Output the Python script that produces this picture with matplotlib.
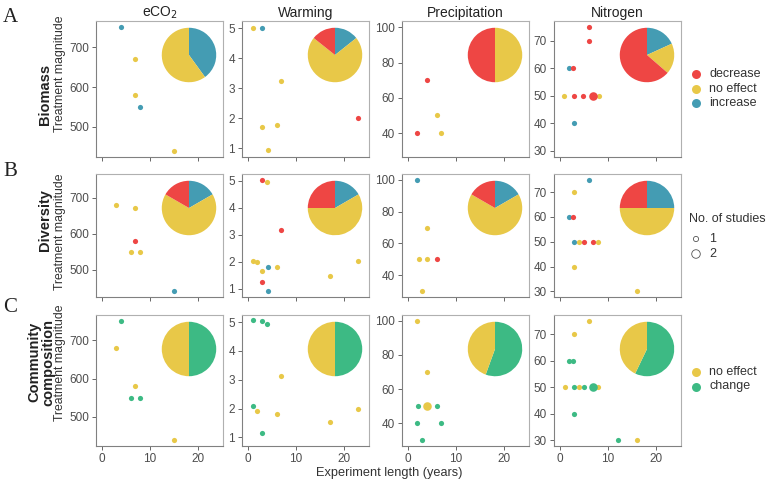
import matplotlib
matplotlib.use("Agg")
import matplotlib.pyplot as plt
import numpy as np

plt.rcParams['font.family'] = ['Liberation Sans', 'DejaVu Sans']

# ---------------- data ----------------
treatments = ["eCO$_2$", "Warming", "Precipitation", "Nitrogen"]
row_names = ["Biomass", "Diversity", "Community\ncomposition"]
panel_letters = ["A", "B", "C"]

# Biomass
bio_eco2_x = [4, 7, 7, 8, 15]
bio_eco2_y = [750, 670, 580, 550, 440]
bio_eco2_e = ['i', 'n', 'n', 'i', 'n']
bio_eco2_n = [1, 1, 1, 1, 1]

bio_warm_x = [1, 3, 7, 3, 6, 4.3, 23]
bio_warm_y = [5.0, 5.0, 3.23, 1.71, 1.77, 0.93, 1.99]
bio_warm_e = ['n', 'i', 'n', 'n', 'n', 'n', 'd']
bio_warm_n = [1, 1, 1, 1, 1, 1, 1]

bio_prec_x = [2, 4, 6, 7]
bio_prec_y = [40, 70, 50, 40]
bio_prec_e = ['d', 'd', 'n', 'n']
bio_prec_n = [1, 1, 1, 1]

bio_nitr_x = [6, 6, 1.9, 2.8, 0.9, 2.9, 4.9, 8.1, 6.9, 3]
bio_nitr_y = [75, 70, 60, 60, 50, 50, 50, 50, 50, 40]
bio_nitr_e = ['d', 'd', 'i', 'd', 'n', 'd', 'd', 'n', 'd', 'i']
bio_nitr_n = [1, 1, 1, 1, 1, 1, 1, 1, 2, 1]

# Diversity
div_eco2_x = [3, 7, 7, 6, 8, 15]
div_eco2_y = [680, 670, 580, 550, 550, 440]
div_eco2_e = ['n', 'n', 'd', 'n', 'n', 'i']
div_eco2_n = [1, 1, 1, 1, 1, 1]

div_warm_x = [3, 4, 7, 1, 2, 3, 4.3, 6, 3, 4.3, 17, 23]
div_warm_y = [5.02, 4.95, 3.19, 2.04, 1.98, 1.67, 1.8, 1.81, 1.24, 0.92, 1.48, 2.04]
div_warm_e = ['d', 'n', 'd', 'n', 'n', 'n', 'i', 'n', 'd', 'i', 'n', 'n']
div_warm_n = [1] * 12

div_prec_x = [2, 4, 2.4, 4, 6, 3]
div_prec_y = [100, 70, 50, 50, 50, 30]
div_prec_e = ['i', 'n', 'n', 'n', 'd', 'n']
div_prec_n = [1] * 6

div_nitr_x = [6, 3, 1.9, 2.8, 3, 3.9, 5, 7, 8, 3, 16]
div_nitr_y = [75, 70, 60, 60, 50, 50, 50, 50, 50, 40, 30]
div_nitr_e = ['i', 'n', 'i', 'd', 'i', 'n', 'd', 'd', 'n', 'n', 'n']
div_nitr_n = [1] * 11

# Community composition
com_eco2_x = [4, 3, 7, 6, 8, 15]
com_eco2_y = [750, 680, 580, 550, 550, 440]
com_eco2_e = ['c', 'n', 'n', 'c', 'c', 'n']
com_eco2_n = [1] * 6

com_warm_x = [1, 3, 4.1, 7, 1, 2, 6, 3, 17, 23]
com_warm_y = [5.08, 5.03, 4.93, 3.13, 2.08, 1.93, 1.82, 1.16, 1.54, 1.99]
com_warm_e = ['c', 'c', 'c', 'n', 'c', 'n', 'n', 'c', 'n', 'n']
com_warm_n = [1] * 10

com_prec_x = [2, 4, 4, 2.2, 6, 2, 7, 3]
com_prec_y = [100, 70, 50, 50, 50, 40, 40, 30]
com_prec_e = ['n', 'n', 'n', 'c', 'c', 'c', 'c', 'c']
com_prec_n = [1, 1, 2, 1, 1, 1, 1, 1]

com_nitr_x = [6, 3, 1.9, 2.8, 1, 3, 3.9, 5, 8, 7, 3, 12, 16]
com_nitr_y = [75, 70, 60, 60, 50, 50, 50, 50, 50, 50, 40, 30, 30]
com_nitr_e = ['n', 'n', 'c', 'c', 'n', 'c', 'n', 'c', 'n', 'c', 'c', 'c', 'n']
com_nitr_n = [1, 1, 1, 1, 1, 1, 1, 1, 1, 2, 1, 1, 1]

# Pie proportions (number of studies), clockwise from top
pie_keys_effect = ['i', 'n', 'd']       # increase, no effect, decrease
pie_keys_comp = ['c', 'n']              # change, no effect
bio_pies = [[2, 3, 0], [1, 5, 1], [0, 2, 2], [2, 2, 7]]
div_pies = [[1, 4, 1], [2, 7, 3], [1, 4, 1], [3, 6, 3]]
com_pies = [[3, 3], [5, 5], [5, 4], [8, 6]]

yticks_by_col = [[500, 600, 700], [1, 2, 3, 4, 5], [40, 60, 80, 100], [30, 40, 50, 60, 70]]
xticks = [0, 10, 20]

# ---------------- style ----------------
colors = {'d': '#EE4644', 'n': '#E8C848', 'i': '#449CB3', 'c': '#3DBA84'}
ylims = [(424.5, 765.5), (0.7, 5.25), (26.5, 103.5), (27.75, 77.25)]
xlim = (-1.2, 25.2)

W, H = 768, 480
fig = plt.figure(figsize=(W / 100, H / 100), dpi=100)

col_left = [96, 242, 402, 554]
col_w = 127
row_top = [21, 174, 315]
row_bot = [157, 297, 446]

rows_data = [
    [(bio_eco2_x, bio_eco2_y, bio_eco2_e, bio_eco2_n), (bio_warm_x, bio_warm_y, bio_warm_e, bio_warm_n),
     (bio_prec_x, bio_prec_y, bio_prec_e, bio_prec_n), (bio_nitr_x, bio_nitr_y, bio_nitr_e, bio_nitr_n)],
    [(div_eco2_x, div_eco2_y, div_eco2_e, div_eco2_n), (div_warm_x, div_warm_y, div_warm_e, div_warm_n),
     (div_prec_x, div_prec_y, div_prec_e, div_prec_n), (div_nitr_x, div_nitr_y, div_nitr_e, div_nitr_n)],
    [(com_eco2_x, com_eco2_y, com_eco2_e, com_eco2_n), (com_warm_x, com_warm_y, com_warm_e, com_warm_n),
     (com_prec_x, com_prec_y, com_prec_e, com_prec_n), (com_nitr_x, com_nitr_y, com_nitr_e, com_nitr_n)],
]
pies = [bio_pies, div_pies, com_pies]
pie_keys = [pie_keys_effect, pie_keys_effect, pie_keys_comp]

size_map = {1: 14, 2: 38}
tick_col = '#4D4D4D'

for r in range(3):
    for c in range(4):
        l = col_left[c]
        t, b = row_top[r], row_bot[r]
        ax = fig.add_axes([l / W, (H - b) / H, col_w / W, (b - t) / H])
        xs, ys, es, ns = rows_data[r][c]
        for x, y, e, n in zip(xs, ys, es, ns):
            ax.scatter([x], [y], s=size_map[n], color=colors[e], lw=0, zorder=3)
        ax.set_xlim(*xlim)
        ax.set_ylim(*ylims[c])
        ax.set_xticks(xticks)
        ax.set_yticks(yticks_by_col[c])
        ax.tick_params(colors='#666666', labelcolor=tick_col, labelsize=8.5,
                       length=3, width=0.7, pad=2)
        if r < 2:
            ax.set_xticklabels([])
        for side in ['top', 'right']:
            ax.spines[side].set_color('#B0B0B0')
            ax.spines[side].set_linewidth(0.8)
        for side in ['left', 'bottom']:
            ax.spines[side].set_color('#808080')
            ax.spines[side].set_linewidth(0.8)
        if r == 0:
            ax.set_title(treatments[c], fontsize=10, color='#222222', pad=3)
        # pie inset
        pr = 27.5
        cx, cy = l + col_w - 34, t + 34
        pax = fig.add_axes([(cx - pr) / W, (H - cy - pr) / H, 2 * pr / W, 2 * pr / H])
        vals = pies[r][c]
        keys = pie_keys[r]
        vv = [v for v in vals if v > 0]
        cc = [colors[k] for k, v in zip(keys, vals) if v > 0]
        pax.pie(vv, colors=cc, startangle=90, counterclock=False,
                wedgeprops=dict(linewidth=0))
        pax.set_xlim(-1.01, 1.01)
        pax.set_ylim(-1.01, 1.01)
        pax.set_aspect('equal')
        pax.axis('off')

# overlay for text / legends in pixel coordinates
ov = fig.add_axes([0, 0, 1, 1])
ov.set_xlim(0, W)
ov.set_ylim(H, 0)
ov.axis('off')

letter_y = [18, 171, 308]
name_x = [45, 45, 41]
name_y = [94, 220, 362]
tm_y = [74, 232, 363]
for r in range(3):
    ov.text(10, letter_y[r], panel_letters[r], fontsize=15, family='Liberation Serif',
            color='#222222', ha='center', va='center')
    ov.text(name_x[r], name_y[r], row_names[r], fontsize=10.5, fontweight='bold',
            rotation=90, ha='center', va='center', color='#222222', linespacing=1.0)
    ov.text(60, tm_y[r], "Treatment magnitude", fontsize=8.8, rotation=90,
            ha='center', va='center', color='#333333')

ov.text(389, 473, "Experiment length (years)", fontsize=9.2, ha='center', va='center',
        color='#333333')

# legend 1: effects
leg1_labels = ["decrease", "no effect", "increase"]
leg1_keys = ['d', 'n', 'i']
for k, (lab, key) in enumerate(zip(leg1_labels, leg1_keys)):
    yy = 74 + 14.5 * k
    ov.scatter([696], [yy], s=42, color=colors[key], lw=0)
    ov.text(709, yy, lab, fontsize=9, va='center', ha='left', color='#333333')

# legend 2: number of studies
ov.text(689, 219, "No. of studies", fontsize=9, va='center', ha='left', color='#333333')
for k, n in enumerate([1, 2]):
    yy = 239 + 15 * k
    ov.scatter([696], [yy], s=size_map[n], facecolor='none', edgecolor='#555555', lw=0.6)
    ov.text(709, yy, str(n), fontsize=9, va='center', ha='left', color='#333333')

# legend 3: composition
leg3_labels = ["no effect", "change"]
leg3_keys = ['n', 'c']
for k, (lab, key) in enumerate(zip(leg3_labels, leg3_keys)):
    yy = 372 + 14.5 * k
    ov.scatter([696], [yy], s=42, color=colors[key], lw=0)
    ov.text(709, yy, lab, fontsize=9, va='center', ha='left', color='#333333')

fig.savefig("out.png", dpi=100)
